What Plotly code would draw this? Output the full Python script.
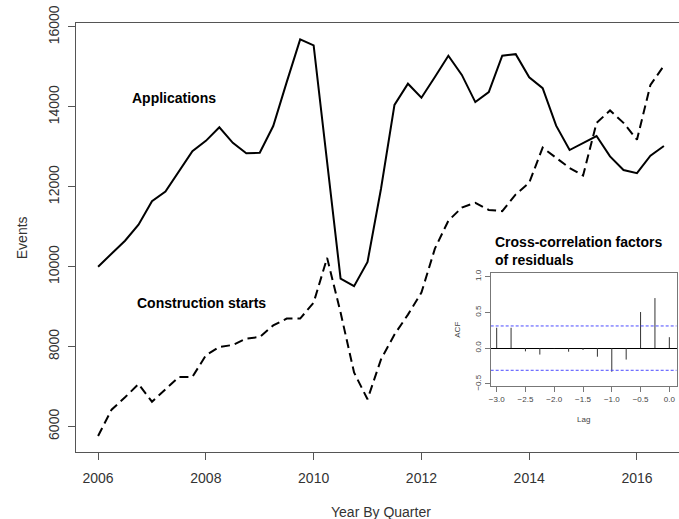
import plotly.graph_objects as go

# quarterly time index
quarters = [
    2006.0, 2006.25, 2006.5, 2006.75,
    2007.0, 2007.25, 2007.5, 2007.75,
    2008.0, 2008.25, 2008.5, 2008.75,
    2009.0, 2009.25, 2009.5, 2009.75,
    2010.0, 2010.25, 2010.5, 2010.75,
    2011.0, 2011.25, 2011.5, 2011.75,
    2012.0, 2012.25, 2012.5, 2012.75,
    2013.0, 2013.25, 2013.5, 2013.75,
    2014.0, 2014.25, 2014.5, 2014.75,
    2015.0, 2015.25, 2015.5, 2015.75,
    2016.0, 2016.25, 2016.5,
]

applications = [
    10000, 10330, 10650, 11050,
    11640, 11880, 12370, 12890,
    13150, 13490, 13100, 12840,
    12850, 13520, 14620, 15690,
    15540, 12650, 9700, 9510,
    10120, 11950, 14050, 14580,
    14230, 14750, 15280, 14800,
    14120, 14370, 15280, 15320,
    14740, 14470, 13530, 12920,
    13100, 13270, 12760, 12420,
    12340, 12780, 13020,
]

construction_starts = [
    5760, 6420, 6730, 7060,
    6620, 6930, 7240, 7240,
    7780, 7990, 8040, 8200,
    8240, 8530, 8700, 8700,
    9100, 10220, 8850, 7350,
    6680, 7680, 8300, 8800,
    9350, 10450, 11150, 11480,
    11600, 11420, 11390, 11810,
    12100, 12980, 12720, 12470,
    12280, 13600, 13910, 13600,
    13180, 14550, 15030,
]

year_ticks = [2006, 2008, 2010, 2012, 2014, 2016]
event_ticks = [6000, 8000, 10000, 12000, 14000, 16000]

# cross-correlation of residuals (inset)
lags = [-3.0, -2.75, -2.5, -2.25, -2.0, -1.75, -1.5, -1.25, -1.0, -0.75, -0.5, -0.25, 0.0]
ccf = [0.285, 0.285, -0.045, -0.09, -0.005, -0.05, -0.025, -0.12, -0.33, -0.16, 0.505, 0.70, 0.153]
ci_bound = 0.31
lag_ticks = [-3.0, -2.5, -2.0, -1.5, -1.0, -0.5, 0.0]
acf_ticks = [-0.5, 0.0, 0.5, 1.0]

FONT = "Liberation Sans, Arial, sans-serif"
AXIS_GREY = "#555555"

fig = go.Figure()

fig.add_trace(go.Scatter(
    x=quarters, y=applications, mode="lines",
    line=dict(color="black", width=2), showlegend=False,
))
fig.add_trace(go.Scatter(
    x=quarters, y=construction_starts, mode="lines",
    line=dict(color="black", width=2, dash="9px,5px"), showlegend=False,
))

# ccf spikes as vertical segments
seg_x, seg_y = [], []
for lag, v in zip(lags, ccf):
    seg_x += [lag, lag, None]
    seg_y += [0, v, None]
fig.add_trace(go.Scatter(
    x=seg_x, y=seg_y, mode="lines", xaxis="x2", yaxis="y2",
    line=dict(color="#333333", width=1), showlegend=False,
))
for b in (ci_bound, -ci_bound):
    fig.add_trace(go.Scatter(
        x=[-3.104, 0.128], y=[b, b], mode="lines", xaxis="x2", yaxis="y2",
        line=dict(color="#4a4aff", width=1, dash="3px,2px"), showlegend=False,
    ))

fig.update_layout(
    width=679, height=519,
    margin=dict(l=76, r=0, t=23, b=67),
    paper_bgcolor="white", plot_bgcolor="white",
    font=dict(family=FONT, color="#333333", size=14),
    xaxis=dict(
        range=[2005.59, 2016.78], tickvals=year_ticks,
        showgrid=False, zeroline=False,
        showline=True, linecolor=AXIS_GREY, linewidth=1, mirror=True,
        ticks="outside", ticklen=7, tickcolor=AXIS_GREY,
        ticklabelstandoff=6,
        tickfont=dict(size=14),
    ),
    yaxis=dict(
        range=[5360, 16100], tickvals=event_ticks, tickformat="d",
        showgrid=False, zeroline=False,
        showline=True, linecolor=AXIS_GREY, linewidth=1,
        ticks="outside", ticklen=7, tickcolor=AXIS_GREY,
        tickangle=-90, ticklabelstandoff=3,
        tickfont=dict(size=14),
    ),
    xaxis2=dict(
        domain=[0.6877, 0.9962], anchor="y2",
        range=[-3.104, 0.128], tickvals=lag_ticks, tickformat=".1f",
        showgrid=False, zeroline=False,
        showline=True, linecolor="#777777", linewidth=1, mirror=True,
        ticks="outside", ticklen=5, tickcolor="#777777",
        tickfont=dict(size=8, color="#444444"),
    ),
    yaxis2=dict(
        domain=[0.1538, 0.4166], anchor="x2",
        range=[-0.53, 1.047], tickvals=acf_ticks, tickformat=".1f",
        showgrid=False, zeroline=True, zerolinecolor="black", zerolinewidth=1,
        showline=True, linecolor="#777777", linewidth=1, mirror=True,
        ticks="outside", ticklen=5, tickcolor="#777777",
        tickangle=-90,
        tickfont=dict(size=8, color="#444444"),
    ),
)

fig.add_annotation(text="Applications", x=2007.41, y=14232, xref="x", yref="y",
                   showarrow=False, font=dict(size=14, color="black", family=FONT, weight="bold"))
fig.add_annotation(text="Construction starts", x=2007.91, y=9100, xref="x", yref="y",
                   showarrow=False, font=dict(size=14, color="black", family=FONT, weight="bold"))
fig.add_annotation(text="Cross-correlation factors<br>of residuals", x=2013.32, y=10395,
                   xref="x", yref="y", xanchor="left", yanchor="middle", align="left",
                   showarrow=False, font=dict(size=14, color="black", family=FONT, weight="bold"))

# axis titles placed like R's mtext
fig.add_annotation(text="Year By Quarter", x=0.506, y=-0.14, xref="paper", yref="paper",
                   xanchor="center", yanchor="middle", showarrow=False, font=dict(size=14))
fig.add_annotation(text="Events", x=-0.09, y=0.50, xref="paper", yref="paper",
                   xanchor="center", yanchor="middle", textangle=-90, showarrow=False,
                   font=dict(size=14))
fig.add_annotation(text="Lag", x=0.842, y=0.0746, xref="paper", yref="paper",
                   xanchor="center", yanchor="middle", showarrow=False,
                   font=dict(size=8, color="#444444"))
fig.add_annotation(text="ACF", x=0.6335, y=0.285, xref="paper", yref="paper",
                   xanchor="center", yanchor="middle", textangle=-90, showarrow=False,
                   font=dict(size=8, color="#444444"))

# drop the default page margin so the figure sits at the window's corner
fig.write_html("out.html", config={"displayModeBar": False},
               post_script="document.body.style.margin='0';")
